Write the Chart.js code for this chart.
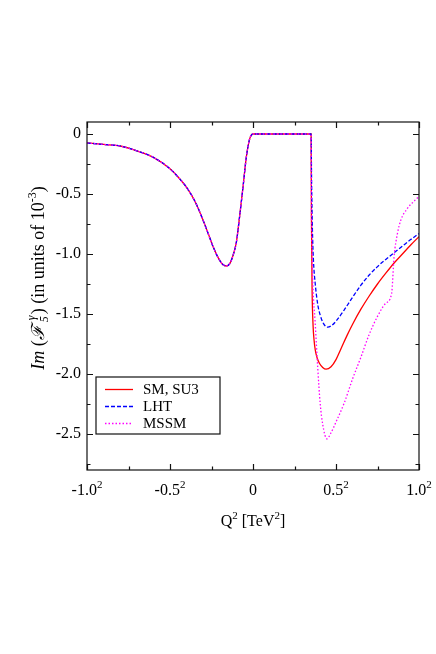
<!DOCTYPE html>
<html>
<head>
<meta charset="utf-8">
<script src="https://cdn.jsdelivr.net/npm/chart.js@4.4.1/dist/chart.umd.min.js"></script>
<style>
  html, body { margin: 0; padding: 0; background: #fff; }
  canvas { display: block; }
</style>
</head>
<body>
<canvas id="imChart" width="436" height="654"></canvas>
<script>
// x is signed Q (axis labelled as Q^2), y is Im(F5) in units of 1e-3
// shared part of all three curves (identical up to the threshold)
const commonQ  = [-1.0, -0.9, -0.8, -0.7, -0.6, -0.5, -0.45, -0.4, -0.35, -0.3, -0.27, -0.24, -0.21, -0.18, -0.16, -0.14, -0.12, -0.10, -0.08, -0.06, -0.04, -0.02, -0.01, 0.0, 0.35];
const commonIm = [-0.075, -0.087, -0.10, -0.14, -0.195, -0.29, -0.36, -0.445, -0.56, -0.72, -0.83, -0.94, -1.03, -1.09, -1.10, -1.08, -1.01, -0.90, -0.68, -0.44, -0.19, -0.04, -0.01, 0, 0];

// SM, SU3
const smQ  = [0.352, 0.356, 0.362, 0.368, 0.375, 0.385, 0.40, 0.42, 0.44, 0.47, 0.5, 0.53, 0.566, 0.6, 0.65, 0.7, 0.75, 0.8, 0.85, 0.9, 0.95, 1.0];
const smIm = [-0.7, -1.3, -1.6, -1.72, -1.80, -1.86, -1.91, -1.945, -1.96, -1.94, -1.88, -1.79, -1.68, -1.585, -1.46, -1.35, -1.25, -1.16, -1.075, -1.0, -0.925, -0.855];

// LHT
const lhtQ  = [0.353, 0.358, 0.364, 0.375, 0.39, 0.405, 0.425, 0.45, 0.475, 0.5, 0.55, 0.6, 0.65, 0.7, 0.75, 0.8, 0.85, 0.9, 0.95, 1.0];
const lhtIm = [-0.4, -0.8, -1.05, -1.25, -1.42, -1.51, -1.58, -1.61, -1.595, -1.56, -1.465, -1.36, -1.26, -1.175, -1.105, -1.045, -0.99, -0.935, -0.88, -0.83];

// MSSM
const mssmQ  = [0.352, 0.356, 0.362, 0.374, 0.39, 0.405, 0.42, 0.445, 0.47, 0.5, 0.55, 0.6, 0.65, 0.7, 0.75, 0.8, 0.835, 0.85, 0.87, 0.89, 0.93, 0.97, 1.0];
const mssmIm = [-0.6, -1.0, -1.3, -1.56, -1.95, -2.25, -2.42, -2.54, -2.49, -2.40, -2.24, -2.04, -1.86, -1.67, -1.52, -1.41, -1.33, -1.02, -0.83, -0.72, -0.62, -0.56, -0.52];

const seriesLabels = ['SM, SU3', 'LHT', 'MSSM'];

const xTicks = [-1, -0.5, 0, 0.5, 1];
const xTickLabels = ['-1.0', '-0.5', '0', '0.5', '1.0'];
const xTickPowers = ['2', '2', '', '2', '2'];
const yTicks = [-2.5, -2.0, -1.5, -1.0, -0.5, 0];
const yTickLabels = ['-2.5', '-2.0', '-1.5', '-1.0', '-0.5', '0'];

const SERIF = '"Liberation Serif", "DejaVu Serif", serif';

function toPoints(qs, ims) {
    return qs.map((q, i) => ({ x: q, y: ims[i] }));
}

const common = toPoints(commonQ, commonIm);

// draws a run of text pieces; each piece may be raised/lowered
function drawRuns(ctx, parts, x0, baseY, align) {
    let total = 0;
    parts.forEach(p => {
        ctx.font = p.f;
        p.w = ctx.measureText(p.t).width;
        if (p.stack) { ctx.font = p.sf || p.f; p.w = Math.max(p.w, ctx.measureText(p.stack).width); }
        p.w += (p.gap || 0);
        total += p.w;
    });
    let cx = align === 'center' ? x0 - total / 2 : x0;
    ctx.textAlign = 'left';
    ctx.textBaseline = 'alphabetic';
    parts.forEach(p => {
        ctx.font = p.f;
        ctx.fillText(p.t, cx, baseY + (p.dy || 0));
        if (p.stack) { ctx.font = p.sf || p.f; ctx.fillText(p.stack, cx + (p.sx || 0), baseY + p.sdy); }
        cx += p.w;
    });
}

// frame + inward ticks on all four sides (gnuplot style)
const framePlugin = {
    id: 'frame',
    afterDatasetsDraw(chart) {
        const { ctx, chartArea: a, scales: { x, y } } = chart;
        ctx.save();
        ctx.strokeStyle = '#111';
        ctx.lineWidth = 1.2;
        ctx.strokeRect(a.left, a.top, a.right - a.left, a.bottom - a.top);
        ctx.beginPath();
        for (let v = -1; v <= 1.0001; v += 0.25) {
            const px = Math.round(x.getPixelForValue(v)) + 0.5;
            const len = Math.abs(v * 2 - Math.round(v * 2)) < 1e-6 ? 6 : 3.5;
            ctx.moveTo(px, a.bottom); ctx.lineTo(px, a.bottom - len);
            ctx.moveTo(px, a.top); ctx.lineTo(px, a.top + len);
        }
        for (let v = -2.75; v <= 0.0001; v += 0.25) {
            const py = Math.round(y.getPixelForValue(v)) + 0.5;
            const len = Math.abs(v * 2 - Math.round(v * 2)) < 1e-6 ? 6 : 3.5;
            ctx.moveTo(a.left, py); ctx.lineTo(a.left + len, py);
            ctx.moveTo(a.right, py); ctx.lineTo(a.right - len, py);
        }
        ctx.stroke();
        ctx.restore();
    }
};

// x tick labels with raised powers, and the two axis titles
const textPlugin = {
    id: 'texts',
    afterDraw(chart) {
        const { ctx, chartArea: a, scales: { x } } = chart;
        const f16 = '16px ' + SERIF, f11 = '11px ' + SERIF;
        ctx.save();
        ctx.fillStyle = '#000';

        xTicks.forEach((v, i) => {
            const parts = [{ t: xTickLabels[i], f: f16 }];
            if (xTickPowers[i]) parts.push({ t: xTickPowers[i], f: f11, dy: -7 });
            drawRuns(ctx, parts, x.getPixelForValue(v), a.bottom + 25, 'center');
        });

        drawRuns(ctx, [
            { t: 'Q', f: f16 },
            { t: '2', f: f11, dy: -7 },
            { t: ' [TeV', f: f16 },
            { t: '2', f: f11, dy: -7 },
            { t: ']', f: f16 }
        ], (a.left + a.right) / 2, 526, 'center');

        // y title, rotated
        const big = '18px ' + SERIF, bigIt = 'italic 18px ' + SERIF;
        const smallIt = 'italic 12px ' + SERIF, small = '12px ' + SERIF;
        ctx.translate(38, 278);
        ctx.rotate(-Math.PI / 2);
        drawRuns(ctx, [
            { t: 'Im', f: bigIt },
            { t: ' (', f: big },
            { t: 'ℱ', f: bigIt, gap: 3 },
            { t: '5', f: smallIt, dy: 4, stack: 'γ', sdy: -9, sx: 2, gap: 2 },
            { t: ') (in units of 10', f: big },
            { t: '-3', f: small, dy: -8 },
            { t: ')', f: big }
        ], 0, 6, 'center');
        ctx.restore();
    }
};

// boxed key in the lower left of the plot
const keyPlugin = {
    id: 'key',
    afterDraw(chart) {
        const { ctx } = chart;
        ctx.save();
        ctx.fillStyle = '#fff';
        ctx.fillRect(96, 377, 124, 57);
        ctx.strokeStyle = '#111';
        ctx.lineWidth = 1.2;
        ctx.strokeRect(96, 377, 124, 57);
        ctx.font = '15px ' + SERIF;
        ctx.textBaseline = 'middle';
        ctx.textAlign = 'left';
        chart.data.datasets.forEach((ds, i) => {
            const ry = 389.5 + i * 17;
            ctx.strokeStyle = ds.borderColor;
            ctx.lineWidth = ds.borderWidth;
            ctx.setLineDash(ds.borderDash || []);
            ctx.beginPath();
            ctx.moveTo(105, ry); ctx.lineTo(133, ry);
            ctx.stroke();
            ctx.setLineDash([]);
            ctx.fillStyle = '#000';
            ctx.fillText(seriesLabels[i], 143, ry + 1);
        });
        ctx.restore();
    }
};

new Chart(document.getElementById('imChart'), {
    type: 'line',
    data: {
        datasets: [
            {
                label: seriesLabels[0],
                data: common.concat(toPoints(smQ, smIm)),
                borderColor: '#ff0000',
                borderWidth: 1.3,
                order: 3
            },
            {
                label: seriesLabels[1],
                data: common.concat(toPoints(lhtQ, lhtIm)),
                borderColor: '#0000ff',
                borderWidth: 1.3,
                borderDash: [4, 2],
                order: 2
            },
            {
                label: seriesLabels[2],
                data: common.concat(toPoints(mssmQ, mssmIm)),
                borderColor: '#ff00ff',
                borderWidth: 1.3,
                borderDash: [1.5, 2],
                order: 1
            }
        ]
    },
    options: {
        responsive: false,
        animation: false,
        events: [],
        elements: {
            point: { radius: 0 },
            line: { cubicInterpolationMode: 'monotone', fill: false }
        },
        layout: { padding: { top: 122, right: 17, left: 0, bottom: 0 } },
        plugins: {
            legend: { display: false },
            tooltip: { enabled: false }
        },
        scales: {
            x: {
                type: 'linear',
                min: -1,
                max: 1,
                grid: { display: false, drawTicks: false },
                border: { display: false },
                afterBuildTicks: (scale) => { scale.ticks = xTicks.map(v => ({ value: v })); },
                afterFit: (scale) => { scale.height = 184; },
                ticks: { display: false }
            },
            y: {
                type: 'linear',
                min: -2.8,
                max: 0.1,
                grid: { display: false, drawTicks: false },
                border: { display: false },
                afterBuildTicks: (scale) => { scale.ticks = yTicks.map(v => ({ value: v })); },
                afterFit: (scale) => { scale.width = 87; },
                ticks: {
                    autoSkip: false,
                    padding: 6,
                    color: '#000',
                    font: { family: SERIF, size: 16 },
                    callback: (v, i) => yTickLabels[i]
                }
            }
        }
    },
    plugins: [framePlugin, textPlugin, keyPlugin]
});
</script>
</body>
</html>
